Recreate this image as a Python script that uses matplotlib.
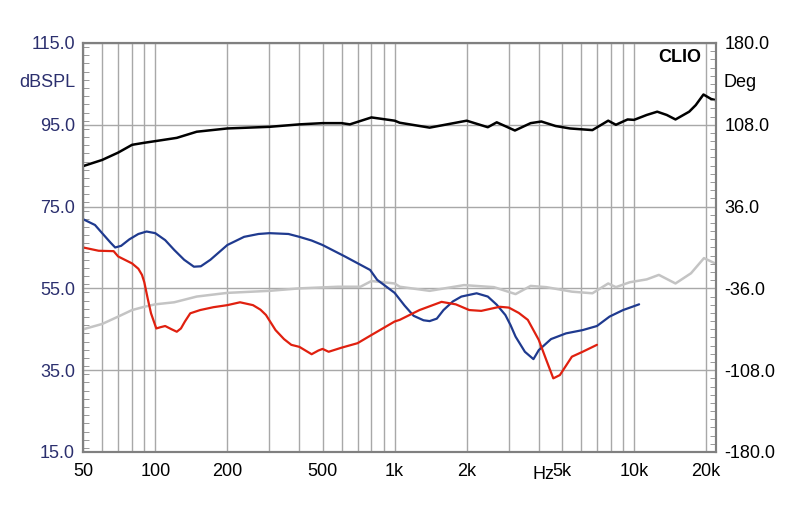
import matplotlib
matplotlib.use('Agg')
import matplotlib.pyplot as plt
from matplotlib.ticker import FixedLocator, MultipleLocator, NullFormatter

# Frequency response data (Hz, dBSPL)
black_f = [50, 60, 70, 80, 90, 100, 123, 149, 200, 300, 400, 500, 600, 650, 800, 1000,
           1050, 1400, 2000, 2450, 2670, 3180, 3700, 4100, 4700, 5400, 6700, 7800, 8400,
           9400, 10000, 11300, 12500, 13700, 14900, 17000, 18100, 19500, 21000, 22000]
black_db = [84.9, 86.4, 88.2, 90.1, 90.6, 91.0, 91.8, 93.3, 94.1, 94.5, 95.1, 95.4, 95.4, 95.1, 96.8, 96.0,
            95.5, 94.3, 96.0, 94.4, 95.6, 93.6, 95.4, 95.8, 94.7, 94.1, 93.7, 96.0, 95.0,
            96.3, 96.2, 97.4, 98.2, 97.4, 96.3, 98.2, 99.8, 102.4, 101.3, 101.0]

gray_f = [50, 60, 70, 80, 90, 100, 120, 149, 200, 300, 400, 580, 720, 800, 1000,
          1050, 1400, 1950, 2600, 3200, 3700, 4300, 5500, 6700, 7800, 8400, 9600,
          11300, 12700, 14900, 17300, 19600, 22000]
gray_db = [45.0, 46.3, 48.1, 49.7, 50.5, 51.1, 51.6, 53.0, 53.9, 54.4, 55.0, 55.4, 55.4, 56.8, 56.2,
           55.4, 54.4, 55.8, 55.3, 53.6, 55.6, 55.3, 54.2, 53.8, 56.2, 55.3, 56.5,
           57.2, 58.3, 56.2, 58.7, 62.4, 61.0]

blue_f = [50, 56, 60, 65, 68, 72, 78, 85, 92, 100, 110, 120, 132, 145, 155, 170, 200, 235, 270,
          300, 360, 400, 450, 500, 620, 790, 845, 1000, 1100, 1200, 1320, 1400, 1500, 1600, 1750,
          1900, 2200, 2450, 2670, 2900, 3050, 3200, 3500, 3800, 4000, 4500,
          5200, 6100, 7000, 7900, 9000, 10500]
blue_db = [71.9, 70.5, 68.5, 66.2, 65.0, 65.4, 67.0, 68.3, 68.9, 68.5, 66.8, 64.4, 62.0, 60.3, 60.4, 62.0, 65.6, 67.6, 68.3,
           68.5, 68.3, 67.6, 66.7, 65.6, 62.8, 59.5, 57.1, 53.9, 50.8, 48.3, 47.2, 47.0, 47.6, 49.7, 51.8,
           53.0, 53.8, 53.0, 51.0, 48.5, 46.0, 43.2, 39.5, 37.7, 39.9, 42.6,
           44.0, 44.8, 45.8, 48.1, 49.7, 51.1]

red_f = [50, 58, 67, 70, 80, 85, 88, 90, 93, 96, 101, 105, 110, 117, 123, 128, 133, 140, 154, 175, 200, 226, 256, 275, 290, 318,
         345, 370, 400, 450, 480, 500, 530, 600, 700, 800, 1000, 1050, 1270, 1570, 1800, 2050, 2300, 2750,
         3000, 3300, 3600, 4000, 4300, 4600, 4900, 5500, 6100, 7000]
red_db = [65.0, 64.2, 64.1, 62.8, 61.1, 59.8, 58.3, 56.5, 52.5, 48.9, 45.2, 45.5, 45.8, 45.0, 44.4, 45.2, 46.9, 48.9, 49.7, 50.4, 50.9, 51.6, 50.9, 49.8, 48.5, 44.8,
          42.6, 41.2, 40.7, 38.9, 39.8, 40.2, 39.5, 40.5, 41.6, 43.6, 46.9, 47.3, 49.7, 51.7, 51.1, 49.7, 49.5, 50.5,
          50.3, 49.0, 47.3, 42.4, 37.5, 33.0, 33.8, 38.3, 39.5, 41.2]

x_ticks = [50, 100, 200, 500, 1000, 2000, 5000, 10000, 20000]
x_labels = ['50', '100', '200', '500', '1k', '2k', '5k', '10k', '20k']
x_grid = [50, 60, 70, 80, 90, 100, 200, 300, 400, 500, 600, 700, 800, 900,
          1000, 2000, 3000, 4000, 5000, 6000, 7000, 8000, 9000, 10000, 20000]
left_ticks = [15, 35, 55, 75, 95, 115]
right_ticks = [-180, -108, -36, 36, 108, 180]

navy = '#2b2f6e'
grid_c = '#a8a8a8'
plt.rcParams['font.family'] = ['Liberation Sans', 'DejaVu Sans']

fig = plt.figure(figsize=(8, 5.11), dpi=100)
ax = fig.add_axes([0.104, 0.1155, 0.791, 0.8004])
ax.set_xscale('log')
ax.set_xlim(50, 22000)
ax.set_ylim(15, 115)

for f in x_grid:
    ax.axvline(f, color=grid_c, lw=1.0, zorder=1)
for v in left_ticks:
    ax.axhline(v, color=grid_c, lw=1.0, zorder=1)

style = dict(solid_joinstyle='round', solid_capstyle='round')
ax.plot(gray_f, gray_db, color='#c4c4c4', lw=1.8, zorder=3, **style)
ax.plot(black_f, black_db, color='black', lw=1.8, zorder=4, **style)
ax.plot(blue_f, blue_db, color='#1f3a8f', lw=1.6, zorder=4, **style)
ax.plot(red_f, red_db, color='#e0200f', lw=1.6, zorder=4, **style)

ax.xaxis.set_major_locator(FixedLocator(x_ticks))
ax.xaxis.set_minor_formatter(NullFormatter())
ax.xaxis.set_minor_locator(FixedLocator([]))
ax.set_xticklabels(x_labels)
ax.tick_params(axis='x', which='major', length=0, pad=8, labelsize=13, colors='black')

ax.yaxis.set_major_locator(FixedLocator(left_ticks))
ax.yaxis.set_minor_locator(MultipleLocator(2))
ax.set_yticklabels(['%.1f' % v for v in left_ticks])
ax.tick_params(axis='y', which='major', length=0, pad=6, labelsize=13, labelcolor=navy)
ax.tick_params(axis='y', which='minor', direction='in', length=4, color='#888888')

for s in ax.spines.values():
    s.set_color('#808080')
    s.set_linewidth(1.5)

ax2 = ax.twinx()
ax2.set_ylim(-180, 180)
ax2.yaxis.set_major_locator(FixedLocator(right_ticks))
ax2.yaxis.set_minor_locator(MultipleLocator(7.2))
ax2.set_yticklabels(['%.1f' % v for v in right_ticks])
ax2.tick_params(axis='y', which='major', length=0, pad=6, labelsize=13, labelcolor='black')
ax2.tick_params(axis='y', which='minor', direction='in', length=4, color='#888888')
for s in ax2.spines.values():
    s.set_color('#808080')
    s.set_linewidth(1.5)

fig.text(0.094, 0.838, 'dBSPL', ha='right', va='center', fontsize=13, color=navy)
fig.text(0.904, 0.838, 'Deg', ha='left', va='center', fontsize=13, color='black')
fig.text(0.876, 0.888, 'CLIO', ha='right', va='center', fontsize=13, fontweight='bold', color='black')
ax.annotate('Hz', xy=(5000, 15), xytext=(-5.5, -16), textcoords='offset points',
            ha='right', va='center', fontsize=13, color='black', annotation_clip=False)

fig.savefig('out.png', dpi=100, facecolor='white')
